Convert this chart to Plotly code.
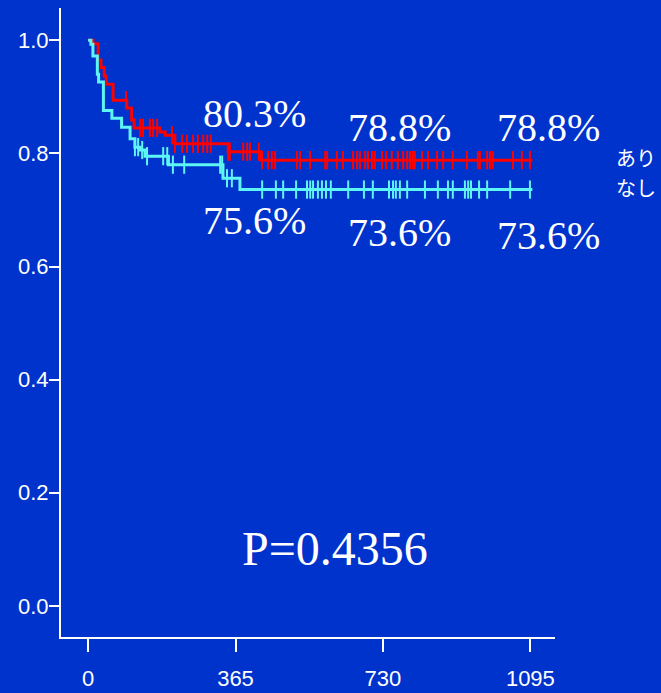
import plotly.graph_objects as go

# Kaplan-Meier step values (days, survival) for the two groups
red_days = [0, 12, 25, 32, 40, 45, 62, 96, 108, 114, 178, 191, 215, 347, 428]
red_surv = [1.0, 0.994, 0.965, 0.952, 0.937, 0.922, 0.894, 0.880, 0.859,
            0.845, 0.838, 0.832, 0.817, 0.803, 0.788]
red_censor = [94, 129, 136, 153, 161, 171, 208, 215, 233, 245, 260, 272, 285,
              295, 304, 347, 351, 384, 394, 401, 423, 431, 446, 455, 463, 517,
              525, 550, 587, 592, 616, 631, 656, 666, 673, 686, 693, 703, 710,
              728, 738, 752, 767, 780, 790, 797, 804, 809, 827, 842, 864, 879,
              903, 938, 965, 970, 988, 995, 1002, 1052, 1074, 1094]

cyan_days = [0, 7, 12, 23, 26, 38, 59, 83, 104, 116, 129, 141, 199, 334, 376]
cyan_surv = [1.0, 0.993, 0.972, 0.940, 0.926, 0.876, 0.862, 0.846, 0.826,
             0.811, 0.806, 0.795, 0.780, 0.756, 0.736]
cyan_censor = [116, 124, 134, 146, 186, 196, 210, 238, 327, 332, 344, 356,
               431, 465, 483, 515, 542, 550, 557, 569, 579, 589, 601, 644,
               683, 705, 745, 755, 762, 772, 790, 834, 866, 891, 903, 933,
               941, 948, 968, 988, 1045, 1094]

follow_end = 1100
x_ticks = [0, 365, 730, 1095]
y_ticks = [0.0, 0.2, 0.4, 0.6, 0.8, 1.0]
group_names = ["あり", "なし"]
p_value = "P=0.4356"

RED = "#ff0000"
CYAN = "#5ff5f5"
BG = "#0033cc"


def surv_at(days, surv, t):
    s = surv[0]
    for d, v in zip(days, surv):
        if d <= t:
            s = v
    return s


fig = go.Figure()

for days, surv, cens, col in [(red_days, red_surv, red_censor, RED),
                              (cyan_days, cyan_surv, cyan_censor, CYAN)]:
    fig.add_trace(go.Scatter(
        x=days + [follow_end], y=surv + [surv[-1]],
        mode="lines", line=dict(color=col, width=3, shape="hv"),
        hoverinfo="skip", showlegend=False))
    fig.add_trace(go.Scatter(
        x=cens, y=[surv_at(days, surv, t) for t in cens],
        mode="markers",
        marker=dict(symbol="line-ns", size=13,
                    line=dict(color=col, width=2)),
        hoverinfo="skip", showlegend=False))

serif = dict(family="Liberation Serif, Times New Roman, serif", size=40,
             color="white")

# survival percentages at 1, 2 and 3 years
label_pos = [(365, 413, 0.871, 0.682), (730, 772, 0.845, 0.661),
             (1095, 1139, 0.845, 0.655)]
for t, lx, ry, cy in label_pos:
    fig.add_annotation(x=lx, y=ry, xref="x", yref="y", showarrow=False,
                       text=f"{surv_at(red_days, red_surv, t) * 100:.1f}%",
                       font=serif, xanchor="center", yanchor="middle")
    fig.add_annotation(x=lx, y=cy, xref="x", yref="y", showarrow=False,
                       text=f"{surv_at(cyan_days, cyan_surv, t) * 100:.1f}%",
                       font=serif, xanchor="center", yanchor="middle")

fig.add_annotation(x=611, y=0.102, xref="x", yref="y", showarrow=False,
                   text=p_value, xanchor="center", yanchor="middle",
                   font=dict(family="Liberation Serif, Times New Roman, serif",
                             size=48, color="white"))

cjk = dict(family="Noto Sans CJK JP", size=20, color="white")
for name, yy in zip(group_names, [0.793, 0.740]):
    fig.add_annotation(x=1.119, y=yy, xref="paper", yref="y",
                       showarrow=False, text=name, font=cjk,
                       xanchor="left", yanchor="middle")

axis_font = dict(family="Liberation Sans, Arial, sans-serif", size=22,
                 color="white")
fig.update_layout(
    width=661, height=693,
    margin=dict(l=61, r=106, t=8, b=56, autoexpand=False),
    paper_bgcolor=BG, plot_bgcolor=BG,
    xaxis=dict(range=[-67, 1156], tickvals=x_ticks,
               ticktext=[str(v) for v in x_ticks],
               showgrid=False, zeroline=False, showline=True,
               linecolor="white", linewidth=2, ticks="outside",
               ticklen=13, tickwidth=2, tickcolor="white",
               ticklabelstandoff=8, tickfont=axis_font, automargin=False),
    yaxis=dict(range=[-0.055, 1.057], tickvals=y_ticks, tickformat=".1f",
               showgrid=False, zeroline=False, showline=True,
               linecolor="white", linewidth=2, ticks="outside",
               ticklen=10, tickwidth=2, tickcolor="white",
               ticklabelstandoff=-4, tickfont=axis_font, automargin=False),
)

fig.write_html("out.html")
